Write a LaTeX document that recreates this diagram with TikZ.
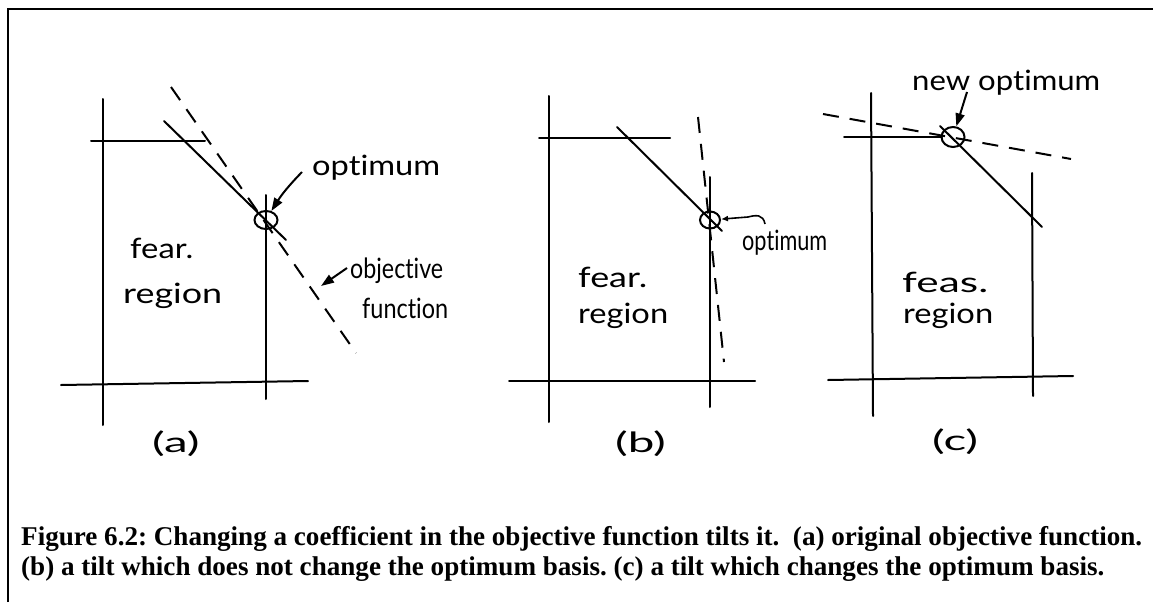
\documentclass[tikz,border=0pt]{standalone}
\usepackage{fontspec}
\setmainfont{Liberation Serif}
\newfontfamily\hand[Ligatures={NoCommon}]{Lato}
\usetikzlibrary{arrows.meta,shapes.geometric}
\newcommand\hwbox[2]{\resizebox{#1}{\height}{\hand\fontsize{28}{28}\selectfont #2}}
\newcommand\lblbox[1]{\scalebox{1.7}[1]{\hand\fontsize{28}{28}\selectfont #1}}
\begin{document}
\frenchspacing
\begin{tikzpicture}[x=1pt,y=-1pt,
  ln/.style={line width=2pt, line cap=round},
  dsh/.style={line width=2pt, dash pattern=on 16pt off 11pt},
  opt/.style={draw, ellipse, line width=2pt, inner sep=0pt},
  hw/.style={anchor=base west, inner sep=0pt},
  capt/.style={anchor=base west, inner sep=0pt, font=\bfseries\fontsize{27.1}{30}\selectfont},
  farr/.style={line width=2pt, -{Triangle[length=13pt,width=9pt]}},
  sarr/.style={line width=1.6pt, -{Latex[length=7pt,width=6pt]}},
]
\useasboundingbox (0,0) rectangle (1153,602);
\coordinate (frB) at (8,602);
\coordinate (frC) at (8,9);
\coordinate (frR) at (1153,9);
\draw[line width=2pt] (frB) -- (frC) -- (frR);

% ---------- panel (a)
\coordinate (aL1) at (103,99);  \coordinate (aL2) at (103,425);
\coordinate (aB1) at (61,385);  \coordinate (aB2) at (308,381);
\coordinate (aR1) at (266,195); \coordinate (aR2) at (266,399);
\coordinate (aT1) at (91,141);  \coordinate (aT2) at (205,141);
\coordinate (aS1) at (164,121); \coordinate (aS2) at (286,240);
\coordinate (aD1) at (171,87);  \coordinate (aD2) at (356,353);
\draw[ln] (aL1) -- (aL2);
\draw[ln] (aB1) -- (aB2);
\draw[ln] (aR1) -- (aR2);
\draw[ln] (aT1) -- (aT2);
\draw[ln] (aS1) -- (aS2);
\draw[dsh] (aD1) -- (aD2);
\node[opt, minimum width=23pt, minimum height=18pt] (aO) at (266,220) {};
\node[hw] (aOptT) at (312,175) {\hwbox{128pt}{optimum}};
\coordinate (aOptTail) at (302,172);
\draw[farr] (aOptTail) to[bend right=6] (aO);
\node[hw] (aObjT) at (350,278) {\hwbox{93pt}{objective}};
\node[hw] (aFunT) at (362,318) {\hwbox{86pt}{function}};
\coordinate (aObjTail) at (347,268);
\coordinate (aObjTip) at (321,286);
\draw[farr] (aObjTail) -- (aObjTip);
\node[hw] (aFea) at (130,258) {\hwbox{63pt}{fear.}};
\node[hw] (aReg) at (123,303) {\hwbox{99pt}{region}};
\node[hw] (aLbl) at (152,452) {\lblbox{(a)}};

% ---------- panel (b)
\coordinate (bL1) at (549,96);  \coordinate (bL2) at (549,422);
\coordinate (bB1) at (509,381); \coordinate (bB2) at (755,381);
\coordinate (bR1) at (710,177); \coordinate (bR2) at (710,407);
\coordinate (bT1) at (539,138); \coordinate (bT2) at (670,138);
\coordinate (bS1) at (617,127); \coordinate (bS2) at (722,231);
\coordinate (bD1) at (698,117); \coordinate (bD2) at (724,362);
\draw[ln] (bL1) -- (bL2);
\draw[ln] (bB1) -- (bB2);
\draw[ln] (bR1) -- (bR2);
\draw[ln] (bT1) -- (bT2);
\draw[ln] (bS1) -- (bS2);
\draw[dsh] (bD1) -- (bD2);
\node[opt, minimum width=20pt, minimum height=17pt] (bO) at (710,220) {};
\node[hw] (bOptT) at (742,250) {\hwbox{85pt}{optimum}};
\coordinate (bArrTail) at (765,224);
\draw[sarr] (bArrTail) .. controls (763,214) and (756,215) .. (748,217) -- (bO);
\node[hw] (bFea) at (578,287) {\hwbox{69pt}{fear.}};
\node[hw] (bReg) at (578,323) {\hwbox{90pt}{region}};
\node[hw] (bLbl) at (615,452) {\lblbox{(b)}};

% ---------- panel (c)
\coordinate (cL1) at (871,93);  \coordinate (cL2) at (873,416);
\coordinate (cB1) at (828,380); \coordinate (cB2) at (1073,376);
\coordinate (cR1) at (1032,173); \coordinate (cR2) at (1033,396);
\coordinate (cT1) at (844,137); \coordinate (cT2) at (942,137);
\coordinate (cS1) at (940,126); \coordinate (cS2) at (1042,227);
\coordinate (cD1) at (823,114); \coordinate (cD2) at (1071,159);
\draw[ln] (cL1) -- (cL2);
\draw[ln] (cB1) -- (cB2);
\draw[ln] (cR1) -- (cR2);
\draw[ln] (cT1) -- (cT2);
\draw[ln] (cS1) -- (cS2);
\draw[dsh] (cD1) -- (cD2);
\node[opt, minimum width=23pt, minimum height=20pt] (cO) at (953,137) {};
\node[hw] (cOptT) at (912,90) {\hwbox{188pt}{new optimum}};
\coordinate (cArrTail) at (967,92);
\draw[farr] (cArrTail) -- (cO);
\node[hw] (cFea) at (902,292) {\hwbox{86pt}{feas.}};
\node[hw] (cReg) at (903,323) {\hwbox{90pt}{region}};
\node[hw] (cLbl) at (932,450) {\lblbox{(c)}};

% ---------- caption
\node[capt] (cap1) at (21,545) {Figure 6.2: Changing a coefficient in the objective function tilts it.\ \ (a) original objective function.};
\node[capt] (cap2) at (21,575) {(b) a tilt which does not change the optimum basis. (c) a tilt which changes the optimum basis.};
\end{tikzpicture}
\end{document}
